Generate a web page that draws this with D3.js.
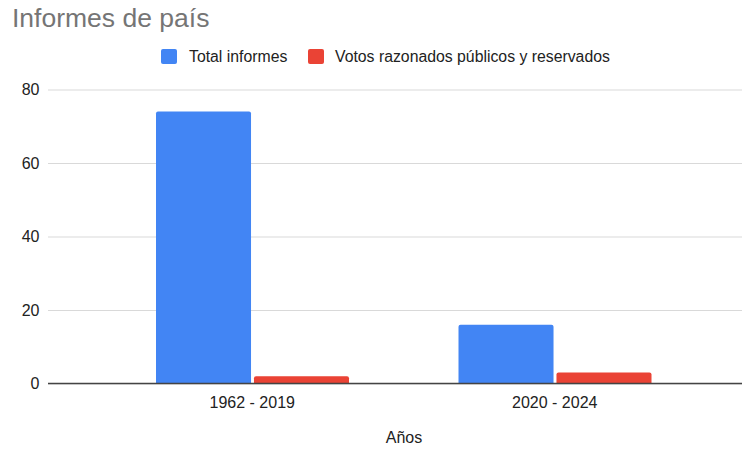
<!DOCTYPE html>
<html><head><meta charset="utf-8">
<script src="https://cdn.jsdelivr.net/npm/d3@7"></script>
<style>body{margin:0;background:#fff}svg{display:block}text{font-family:"Liberation Sans",Arial,sans-serif}</style>
</head><body>
<svg id="c" width="743" height="449"></svg>
<script>
const categories = ["1962 - 2019", "2020 - 2024"];
const seriesNames = ["Total informes", "Votos razonados públicos y reservados"];
const totalInformes = [74, 16];
const votosRazonados = [2, 3];
const yTicks = [0, 20, 40, 60, 80];
const colors = ["#4285F4", "#EA4335"];
const title = "Informes de país";
const xTitle = "Años";

const svg = d3.select("#c");
const y = d3.scaleLinear().domain([0, 80]).range([383.5, 89.5]);
const x = d3.scaleBand().domain(categories).range([101, 706]).padding(0);
const xs = d3.scaleBand().domain(seriesNames).range([55, 248]).paddingInner(0.03);
const data = categories.map((c, i) => ({cat: c, vals: [totalInformes[i], votosRazonados[i]]}));

// title
svg.append("text").attr("x", 12).attr("y", 27).attr("font-size", 26.5).attr("fill", "#757575").text(title);

// legend
const leg = [{x: 161, tx: 189}, {x: 308, tx: 335}];
seriesNames.forEach((s, i) => {
  svg.append("rect").attr("x", leg[i].x).attr("y", 49).attr("width", 16).attr("height", 15).attr("rx", 2).attr("fill", colors[i]);
  svg.append("text").attr("x", leg[i].tx).attr("y", 62).attr("font-size", 15.8).attr("fill", "#222").text(s);
});

// gridlines + y axis
const yAxis = d3.axisLeft(y).tickValues(yTicks).tickSize(-(742 - 48)).tickPadding(9);
const gy = svg.append("g").attr("transform", "translate(48,0)").call(yAxis);
gy.select(".domain").remove();
gy.selectAll(".tick line").attr("stroke", "#d9d9d9").attr("stroke-width", 1);
gy.selectAll(".tick text").attr("font-size", 16).attr("fill", "#222").attr("x", -8.5).attr("font-family", '"Liberation Sans",Arial,sans-serif');

// bars
const g = svg.append("g");
data.forEach(d => {
  d.vals.forEach((v, j) => {
    const x0 = x(d.cat) + xs(seriesNames[j]);
    const w = xs.bandwidth();
    const y0 = y(0), y1 = y(v), r = 2;
    g.append("path").attr("fill", colors[j])
      .attr("d", `M${x0},${y0}V${y1 + r}Q${x0},${y1} ${x0 + r},${y1}H${x0 + w - r}Q${x0 + w},${y1} ${x0 + w},${y1 + r}V${y0}Z`);
  });
});

// baseline + x axis
const xAxis = d3.axisBottom(x).tickSize(0).tickPadding(13);
const gx = svg.append("g").attr("transform", `translate(0,${y(0)})`).call(xAxis);
gx.select(".domain").remove();
gx.selectAll(".tick text").attr("font-size", 16).attr("fill", "#222").attr("font-family", '"Liberation Sans",Arial,sans-serif');
svg.append("line").attr("x1", 48).attr("x2", 742).attr("y1", y(0)).attr("y2", y(0)).attr("stroke", "#444").attr("stroke-width", 1.3);

svg.append("text").attr("x", 404).attr("y", 443).attr("text-anchor", "middle").attr("font-size", 16).attr("fill", "#222").text(xTitle);
</script>
</body></html>
